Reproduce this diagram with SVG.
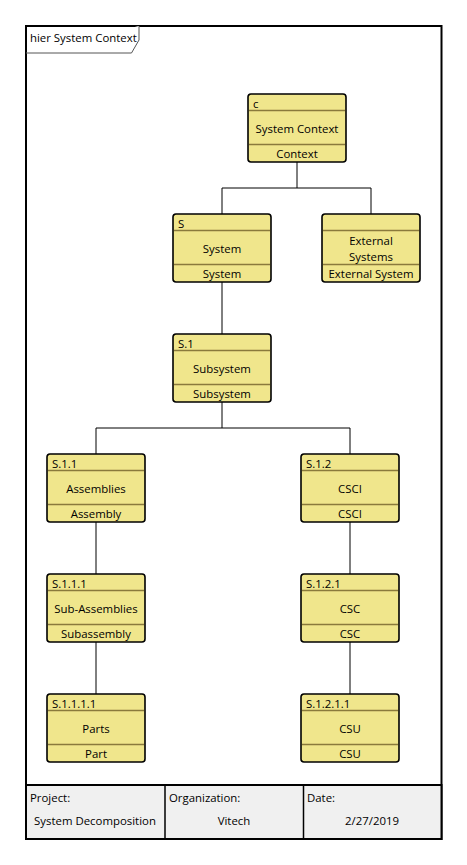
<svg xmlns="http://www.w3.org/2000/svg" width="467" height="865" viewBox="0 0 467 865">
<style>
text{font-family:"Open Sans","Noto Sans","Liberation Sans",sans-serif;font-size:11.4px;fill:#000}
.box{fill:#F0E68C;stroke:#000;stroke-width:1.6}
.div{stroke:#8a7a3c;stroke-width:1.4}
.c{text-anchor:middle}
.con{stroke:#000;stroke-width:1;fill:none}
</style>
<defs>
<g id="nodeShape">
<rect class="box" x="0" y="0" width="98" height="68" rx="3"/>
<line class="div" x1="1" y1="16.5" x2="97" y2="16.5"/>
<line class="div" x1="1" y1="50.5" x2="97" y2="50.5"/>
</g>
</defs>
<rect x="0" y="0" width="467" height="865" fill="#fff"/>
<g id="frame">
<rect x="26" y="26" width="415.5" height="813" fill="none" stroke="#000" stroke-width="2"/>
<path d="M26 53 H131.5 L139 40 V26" fill="#fff" stroke="#555" stroke-width="1"/>
<text x="30" y="42">hier System Context</text>
<rect x="26" y="785" width="415.5" height="54" fill="#f0f0f0" stroke="#000" stroke-width="2"/>
<line x1="165" y1="785" x2="165" y2="839" stroke="#000" stroke-width="1.5"/>
<line x1="303.5" y1="785" x2="303.5" y2="839" stroke="#000" stroke-width="1.5"/>
<text x="30" y="802">Project:</text>
<text class="c" x="95" y="825">System Decomposition</text>
<text x="169" y="802">Organization:</text>
<text class="c" x="234" y="825">Vitech</text>
<text x="307" y="802">Date:</text>
<text class="c" x="372" y="825">2/27/2019</text>
</g>
<g id="connectors">
<path class="con" d="M297 162 V188 M222 188 H371 M222 188 V214 M371 188 V214"/>
<path class="con" d="M222 282 V334"/>
<path class="con" d="M222 402 V428 M96 428 H350 M96 428 V454 M350 428 V454"/>
<path class="con" d="M96 522 V574 M96 642 V694 M350 522 V574 M350 642 V694"/>
</g>
<g id="n-context" transform="translate(248,94)">
<use href="#nodeShape"/>
<text x="5" y="13.5">c</text>
<text class="c" x="49" y="39">System Context</text>
<text class="c" x="49" y="64">Context</text>
</g>
<g id="n-system" transform="translate(173,214)">
<use href="#nodeShape"/>
<text x="5" y="13.5">S</text>
<text class="c" x="49" y="39">System</text>
<text class="c" x="49" y="64">System</text>
</g>
<g id="n-external" transform="translate(322,214)">
<use href="#nodeShape"/>
<text class="c" x="49" y="31">External</text>
<text class="c" x="49" y="47">Systems</text>
<text class="c" x="49" y="64">External System</text>
</g>
<g id="n-subsystem" transform="translate(173,334)">
<use href="#nodeShape"/>
<text x="5" y="13.5">S.1</text>
<text class="c" x="49" y="39">Subsystem</text>
<text class="c" x="49" y="64">Subsystem</text>
</g>
<g id="n-s11" transform="translate(47,454)">
<use href="#nodeShape"/>
<text x="5" y="13.5">S.1.1</text>
<text class="c" x="49" y="39">Assemblies</text>
<text class="c" x="49" y="64">Assembly</text>
</g>
<g id="n-s12" transform="translate(301,454)">
<use href="#nodeShape"/>
<text x="5" y="13.5">S.1.2</text>
<text class="c" x="49" y="39">CSCI</text>
<text class="c" x="49" y="64">CSCI</text>
</g>
<g id="n-s111" transform="translate(47,574)">
<use href="#nodeShape"/>
<text x="5" y="13.5">S.1.1.1</text>
<text class="c" x="49" y="39">Sub-Assemblies</text>
<text class="c" x="49" y="64">Subassembly</text>
</g>
<g id="n-s121" transform="translate(301,574)">
<use href="#nodeShape"/>
<text x="5" y="13.5">S.1.2.1</text>
<text class="c" x="49" y="39">CSC</text>
<text class="c" x="49" y="64">CSC</text>
</g>
<g id="n-s1111" transform="translate(47,694)">
<use href="#nodeShape"/>
<text x="5" y="13.5">S.1.1.1.1</text>
<text class="c" x="49" y="39">Parts</text>
<text class="c" x="49" y="64">Part</text>
</g>
<g id="n-s1211" transform="translate(301,694)">
<use href="#nodeShape"/>
<text x="5" y="13.5">S.1.2.1.1</text>
<text class="c" x="49" y="39">CSU</text>
<text class="c" x="49" y="64">CSU</text>
</g>
</svg>
